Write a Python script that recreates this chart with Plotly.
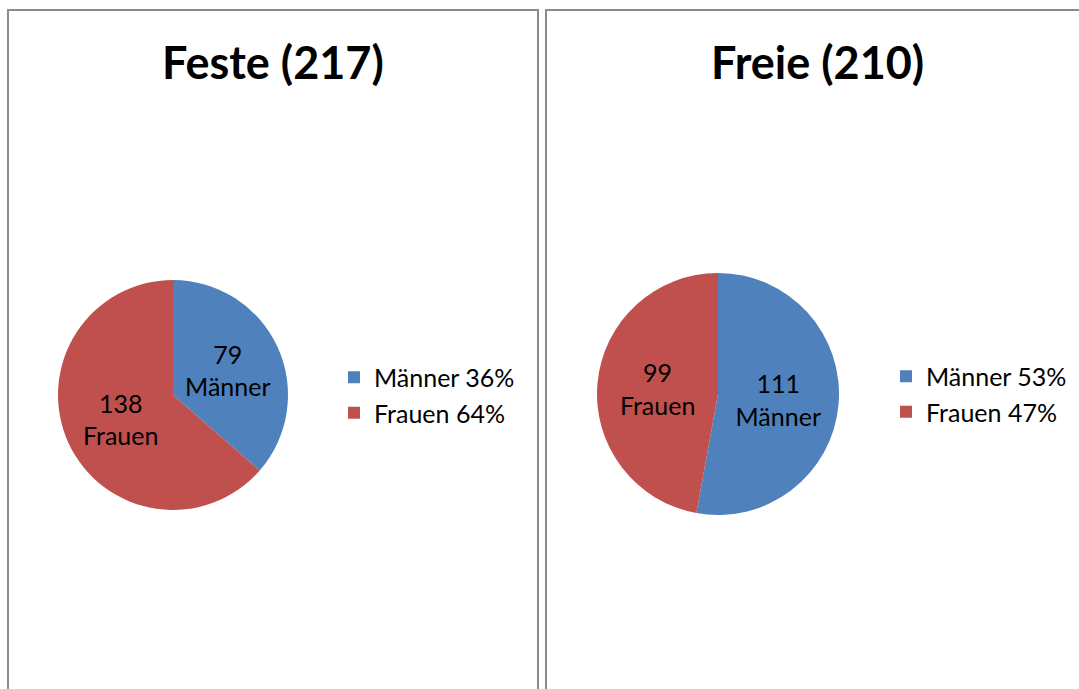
import plotly.graph_objects as go

W, H = 1079, 689

# data
categories = ['Männer', 'Frauen']
festeValues = [79, 138]
freieValues = [111, 99]
titles = ['Feste (217)', 'Freie (210)']
colors = ['#4F81BD', '#C0504D']

FONT = 'Lato, Carlito, Calibri, sans-serif'
BORDER = '#8C8C8C'


def px(x):
    return x / W


def py(y):
    return 1 - y / H


def legendLabels(values):
    total = sum(values)
    return [f'{c} {round(100 * v / total)}%' for c, v in zip(categories, values)]


def pieTrace(values, domX, domY, legend):
    return go.Pie(
        labels=legendLabels(values), values=values, customdata=categories,
        sort=False, direction='clockwise', rotation=0,
        marker=dict(colors=colors, line=dict(width=0)),
        texttemplate='%{value}<br>%{customdata}', textposition='inside',
        insidetextorientation='horizontal',
        textfont=dict(family=FONT, size=25, color='#000000'),
        hoverinfo='label+value', domain=dict(x=domX, y=domY),
        legend=legend,
    )


fig = go.Figure()
fig.add_trace(pieTrace(festeValues, [px(58), px(288)], [py(510), py(280)], 'legend'))
fig.add_trace(pieTrace(freieValues, [px(597), px(839)], [py(515), py(273)], 'legend2'))

legendStyle = dict(font=dict(family=FONT, size=25, color='#000000'),
                   bgcolor='rgba(0,0,0,0)', xanchor='left', yanchor='middle',
                   itemclick=False, itemdoubleclick=False)


def title(text, x):
    return dict(text=f'<b>{text}</b>', x=px(x), y=py(62), xref='paper', yref='paper',
                xanchor='center', yanchor='middle', showarrow=False,
                font=dict(family=FONT, size=45, color='#000000'))


fig.update_layout(
    width=W, height=H, margin=dict(l=0, r=0, t=0, b=0),
    paper_bgcolor='white', plot_bgcolor='white',
    legend=dict(x=px(334), y=py(395), **legendStyle),
    legend2=dict(x=px(886), y=py(394), **legendStyle),
    shapes=[
        dict(type='rect', xref='paper', yref='paper', x0=px(8), x1=px(538), y0=py(700), y1=py(10),
             line=dict(color=BORDER, width=2)),
        dict(type='rect', xref='paper', yref='paper', x0=px(546), x1=px(1090), y0=py(700), y1=py(10),
             line=dict(color=BORDER, width=2)),
    ],
    annotations=[title(titles[0], 273), title(titles[1], 818)],
)

fig.write_html('out.html', config={'displayModeBar': False},
               post_script="document.body.style.margin='0';")
